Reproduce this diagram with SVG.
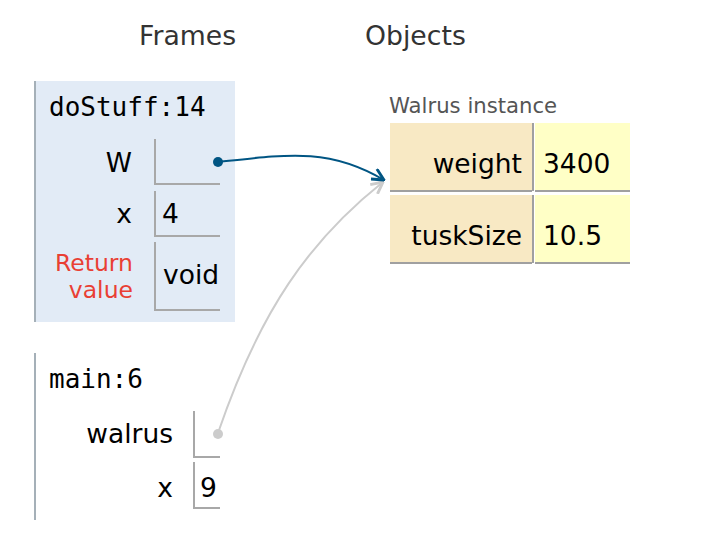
<svg xmlns="http://www.w3.org/2000/svg" width="724" height="554" viewBox="0 0 724 554">
<style>
.hdr{font-family:"DejaVu Sans",Verdana,sans-serif;font-size:26.7px;fill:#333}
.fn{font-family:"DejaVu Sans Mono",monospace;font-size:26px;fill:#000}
.lbl{font-family:"DejaVu Sans",Verdana,sans-serif;font-size:26.5px;fill:#000}
.ret{font-family:"DejaVu Sans",Verdana,sans-serif;font-size:23.5px;fill:#e93f34}
.ttl{font-family:"DejaVu Sans",Verdana,sans-serif;font-size:21.2px;fill:#555}
.bx{stroke:#a8a8a8;stroke-width:2;fill:none}
.fb{stroke:#a5b0b8;stroke-width:2}
</style>
<defs>
<marker id="ab" viewBox="0 0 12 12" refX="11" refY="6" markerWidth="14" markerHeight="14" markerUnits="userSpaceOnUse" orient="auto">
<path d="M1,1 L11,6 L1,11" fill="none" stroke="#005583" stroke-width="2.5"/>
</marker>
<marker id="ag" viewBox="0 0 12 12" refX="11" refY="6" markerWidth="14" markerHeight="14" markerUnits="userSpaceOnUse" orient="auto">
<path d="M1,1 L11,6 L1,11" fill="none" stroke="#cccccc" stroke-width="2.5"/>
</marker>
</defs>
<rect width="724" height="554" fill="#fff"/>
<text class="hdr" x="139" y="45">Frames</text>
<text class="hdr" x="365" y="45">Objects</text>

<g id="frame-doStuff">
<rect x="35" y="81" width="200" height="241" fill="#e2ebf6"/>
<line class="fb" x1="35" y1="81" x2="35" y2="322"/>
<text class="fn" x="49" y="116">doStuff:14</text>
<text class="lbl" x="132" y="172" text-anchor="end">W</text>
<path class="bx" d="M155,139 V184 H220"/>
<text class="lbl" x="132" y="223" text-anchor="end">x</text>
<path class="bx" d="M155,191 V236 H220"/>
<text class="lbl" x="162" y="223">4</text>
<text class="ret" x="133" y="271" text-anchor="end">Return</text>
<text class="ret" x="133" y="298" text-anchor="end">value</text>
<path class="bx" d="M155,242 V310 H220"/>
<text class="lbl" x="163" y="284">void</text>
</g>

<g id="frame-main">
<line class="fb" x1="35" y1="353" x2="35" y2="520"/>
<text class="fn" x="49" y="388">main:6</text>
<text class="lbl" x="173" y="443" text-anchor="end">walrus</text>
<path class="bx" d="M194,411 V457 H220"/>
<text class="lbl" x="173" y="497" text-anchor="end">x</text>
<path class="bx" d="M194,462 V508 H220"/>
<text class="lbl" x="200" y="497">9</text>
</g>

<g id="walrus-instance">
<text class="ttl" x="389" y="113">Walrus instance</text>
<rect x="390" y="123" width="142" height="67" fill="#f8e9c4"/>
<rect x="535" y="123" width="95" height="67" fill="#ffffc6"/>
<rect x="390" y="195" width="142" height="67" fill="#f8e9c4"/>
<rect x="535" y="195" width="95" height="67" fill="#ffffc6"/>
<line x1="533" y1="123" x2="533" y2="191" stroke="#a0a0a0" stroke-width="2"/>
<line x1="533" y1="195" x2="533" y2="263" stroke="#a0a0a0" stroke-width="2"/>
<line x1="390" y1="191" x2="532" y2="191" stroke="#a0a0a0" stroke-width="2"/>
<line x1="535" y1="191" x2="630" y2="191" stroke="#a0a0a0" stroke-width="2"/>
<line x1="390" y1="263" x2="532" y2="263" stroke="#a0a0a0" stroke-width="2"/>
<line x1="535" y1="263" x2="630" y2="263" stroke="#a0a0a0" stroke-width="2"/>
<text class="lbl" x="522" y="173" text-anchor="end">weight</text>
<text class="lbl" x="543" y="173">3400</text>
<text class="lbl" x="522" y="245" text-anchor="end">tuskSize</text>
<text class="lbl" x="543" y="245">10.5</text>
</g>

<g id="connectors">
<path d="M218,433 C260,310 310,240 383,182" fill="none" stroke="#cccccc" stroke-width="2" marker-end="url(#ag)"/>
<circle cx="218" cy="434" r="5" fill="#cccccc"/>
<path d="M218,162 C290,154 330,148 384,180" fill="none" stroke="#005583" stroke-width="2" marker-end="url(#ab)"/>
<circle cx="218" cy="162" r="5" fill="#005583"/>
</g>
</svg>
